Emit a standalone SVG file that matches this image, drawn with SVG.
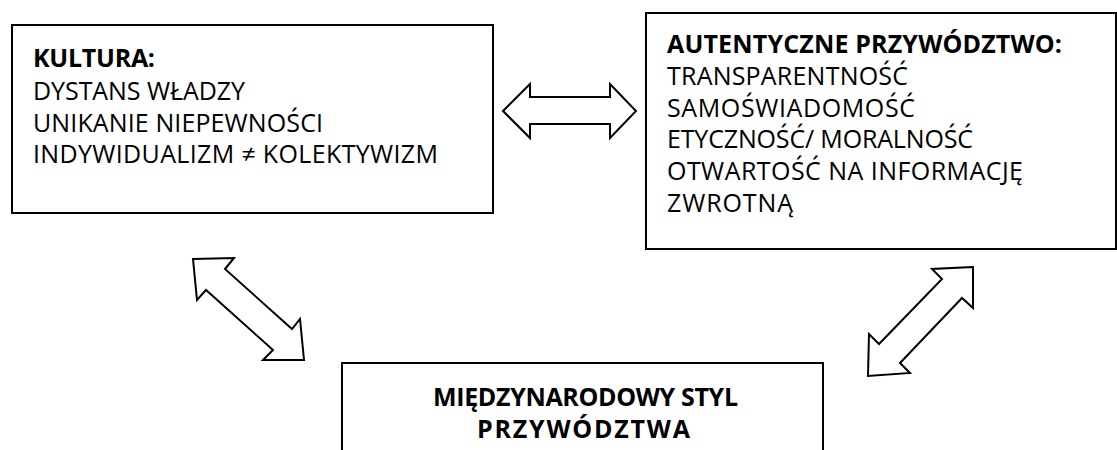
<svg xmlns="http://www.w3.org/2000/svg" width="1117" height="450" viewBox="0 0 1117 450">
  <style>
    .box { fill: #ffffff; stroke: #000000; stroke-width: 2; }
    .arrow { fill: #ffffff; stroke: #000000; stroke-width: 2; stroke-linejoin: miter; }
    text { font-family: "Open Sans", "Noto Sans", "Liberation Sans", sans-serif; font-size: 25px; fill: #000000; }
    .b { font-weight: bold; }
  </style>
  <rect width="1117" height="450" fill="#ffffff"/>

  <!-- block arrows linking the three boxes -->
  <g id="connectors">
    <polygon class="arrow" points="503,111 530,84 530,97 610,97 610,84 636,111 610,138 610,124 530,124 530,138"/>
    <polygon class="arrow" points="193,259 234,258 225,269 292,329 300,319 304,360 263,360 273,350 206,290 197,300"/>
    <polygon class="arrow" points="973,267 932,269 942,279 879,344 869,334 868,376 910,373 900,363 962,298 973,308"/>
  </g>

  <g id="kultura">
    <rect class="box" x="12" y="25" width="481" height="188"/>
    <text class="b" x="33" y="67" textLength="122">KULTURA:</text>
    <text x="33" y="100" textLength="212">DYSTANS WŁADZY</text>
    <text x="33" y="132" textLength="290">UNIKANIE NIEPEWNOŚCI</text>
    <text x="33" y="163" textLength="405">INDYWIDUALIZM ≠ KOLEKTYWIZM</text>
  </g>

  <g id="autentyczne">
    <rect class="box" x="646" y="13" width="470" height="236"/>
    <text class="b" x="667" y="53" textLength="395">AUTENTYCZNE PRZYWÓDZTWO:</text>
    <text x="667" y="85" textLength="241">TRANSPARENTNOŚĆ</text>
    <text x="667" y="117" textLength="248">SAMOŚWIADOMOŚĆ</text>
    <text x="667" y="148" textLength="306">ETYCZNOŚĆ/ MORALNOŚĆ</text>
    <text x="667" y="180" textLength="356">OTWARTOŚĆ NA INFORMACJĘ</text>
    <text x="667" y="212" textLength="126">ZWROTNĄ</text>
  </g>

  <g id="styl">
    <rect class="box" x="342" y="363" width="481" height="100"/>
    <text class="b" x="585.5" y="406" text-anchor="middle" textLength="305">MIĘDZYNARODOWY STYL</text>
    <text class="b" x="583.5" y="438" text-anchor="middle" textLength="213">PRZYWÓDZTWA</text>
  </g>
</svg>
